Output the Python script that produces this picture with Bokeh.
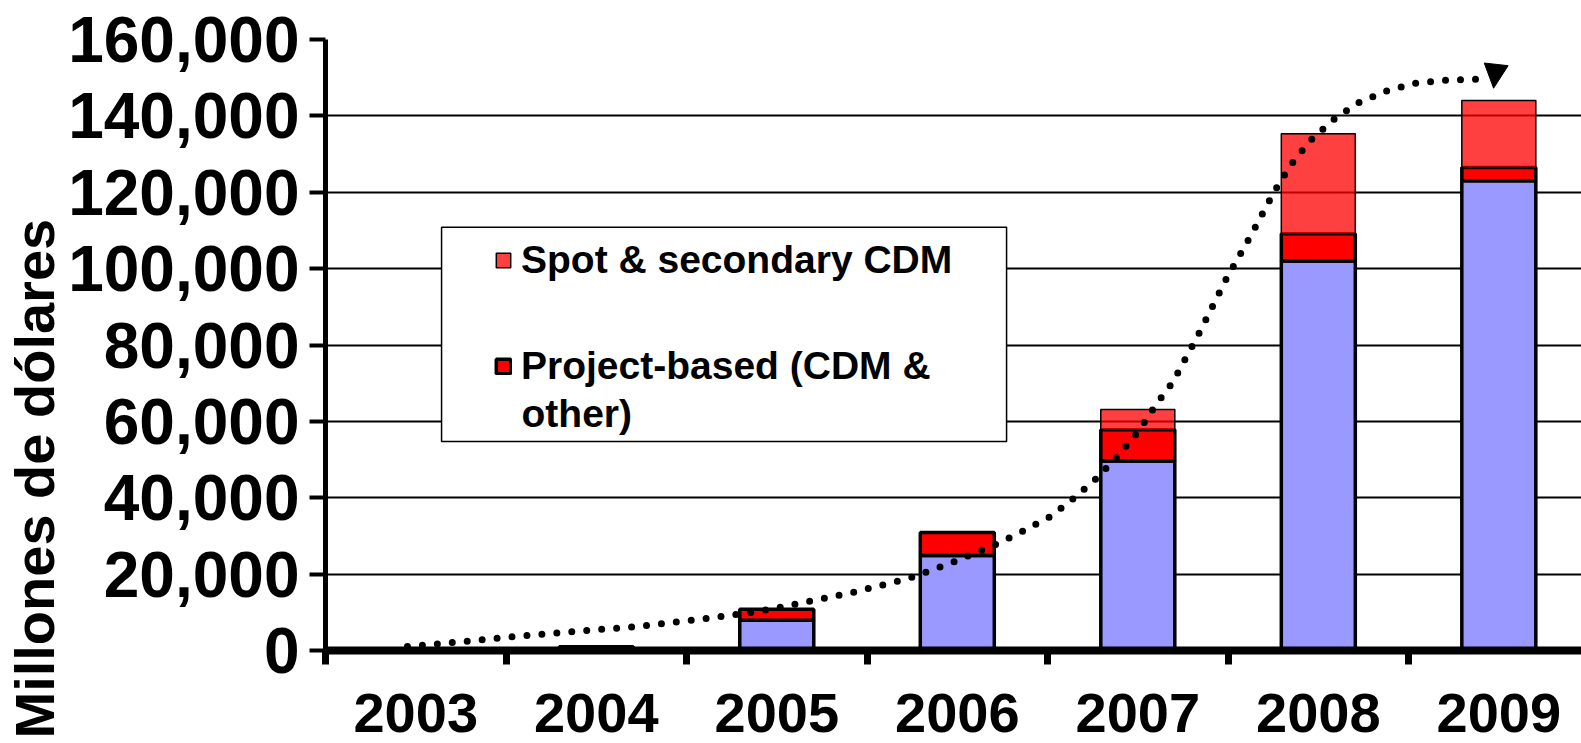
from bokeh.plotting import figure
from bokeh.models import (Range1d, FixedTicker, NumeralTickFormatter, Title, Label,
                          ColumnDataSource, Legend, LegendItem, BoxAnnotation, Arrow, NormalHead)
from bokeh.embed import file_html
from bokeh.resources import INLINE

# ---------------- data ----------------
years = ["2003", "2004", "2005", "2006", "2007", "2008", "2009"]
eu_ets = [0, 0, 7900, 24900, 49600, 102000, 123000]
project_based = [0, 1000, 2900, 6000, 8200, 7100, 3500]
spot_secondary = [0, 0, 0, 0, 5300, 26200, 17500]
y_ticks = [0, 20000, 40000, 60000, 80000, 100000, 120000, 140000, 160000]

# hand-drawn trend arrow (x in category units, y in value units)
trend_x = [0.454, 0.709, 1.047, 1.385, 1.729, 2.066, 2.399, 2.565, 2.898, 3.230, 3.474,
           3.712, 3.861, 4.017, 4.144, 4.271, 4.393, 4.504, 4.598, 4.693, 4.848, 4.986,
           5.136, 5.257, 5.346, 5.452, 5.579, 5.717, 5.873, 6.039, 6.211, 6.382]
trend_y = [1050, 2100, 3670, 4980, 6290, 8120, 10220, 11790, 14940, 18860, 23060,
           27770, 31180, 35110, 39820, 45060, 51090, 57380, 64190, 70220, 83840, 96940,
           109500, 120260, 127070, 133360, 138860, 143310, 146460, 148550, 149340, 149600]

FONT = "Liberation Sans"

x_pos = [i + 0.5 for i in range(len(years))]
bounds = list(range(len(years) + 1))
src = ColumnDataSource(dict(x=x_pos, years=years, eu=eu_ets, proj=project_based,
                            spot=spot_secondary))

p = figure(width=1581, height=743, x_range=Range1d(0, 6.958), y_range=Range1d(0, 160000),
           output_backend="svg", toolbar_location=None,
           min_border_left=325, min_border_right=0, min_border_top=39, min_border_bottom=93)
p.outline_line_color = None
p.background_fill_color = "white"
p.border_fill_color = "white"

# grid
p.xgrid.visible = False
p.ygrid.ticker = FixedTicker(ticks=y_ticks)
p.ygrid.grid_line_color = "black"
p.ygrid.grid_line_width = 2

# y axis
p.yaxis.ticker = FixedTicker(ticks=y_ticks, minor_ticks=[])
p.yaxis.formatter = NumeralTickFormatter(format="0,0")
p.yaxis.major_label_text_font = FONT
p.yaxis.major_label_text_font_style = "bold"
p.yaxis.major_label_text_font_size = "64px"
p.yaxis.major_label_text_color = "black"
p.yaxis.major_label_standoff = 10
p.yaxis.axis_line_width = 5
p.yaxis.axis_line_color = "black"
p.yaxis.major_tick_out = 16
p.yaxis.major_tick_in = 0
p.yaxis.major_tick_line_width = 4
p.yaxis.minor_tick_out = 0
p.yaxis.minor_tick_in = 0

# x axis: labels at category centres, ticks at category boundaries
p.xaxis.ticker = FixedTicker(ticks=x_pos, minor_ticks=bounds)
p.xaxis.major_label_overrides = {xp: y for xp, y in zip(x_pos, years)}
p.xaxis.major_label_text_font = FONT
p.xaxis.major_label_text_font_style = "bold"
p.xaxis.major_label_text_font_size = "56px"
p.xaxis.major_label_text_color = "black"
p.xaxis.major_label_standoff = 29
p.xaxis.axis_line_width = 8
p.xaxis.axis_line_color = "black"
p.xaxis.major_tick_out = 0
p.xaxis.major_tick_in = 0
p.xaxis.minor_tick_out = 14
p.xaxis.minor_tick_in = 0
p.xaxis.minor_tick_line_width = 7
p.xaxis.minor_tick_line_color = "black"

# y axis title (bottom aligned, as in the original slide)
p.add_layout(Title(text="Millones de dólares", align="left", offset=-88,
                   text_font=FONT, text_font_style="bold", text_font_size="56px",
                   text_color="black", standoff=0), "left")

# stacked bars
rs = p.vbar_stack(["eu", "proj", "spot"], x="x", width=0.41, source=src,
                  fill_color=["#9999FF", "#FF0000", "#FF0000"],
                  fill_alpha=[1.0, 1.0, 0.75],
                  line_color="black", line_width=[3.5, 3.5, 1.5])

# dotted trend line with arrow head
p.line(trend_x, trend_y, line_color="black", line_width=7, line_dash="0 15", line_cap="round")
p.add_layout(Arrow(end=NormalHead(size=24, fill_color="black", line_color="black", line_width=1),
                   x_start=6.488, y_start=154580, x_end=6.471, y_end=147244,
                   line_alpha=0))

# legend frame
p.add_layout(BoxAnnotation(left=0.643, right=3.773, top=110830, bottom=54760,
                           fill_color="white", fill_alpha=1.0, line_color="black",
                           line_alpha=1.0, line_width=1.5))

legend = Legend(items=[LegendItem(label="Spot & secondary CDM", renderers=[rs[2]]),
                       LegendItem(label="Project-based (CDM &", renderers=[rs[1]])],
                location=(169, 262), orientation="vertical",
                border_line_alpha=0, background_fill_alpha=0,
                padding=0, margin=0, spacing=62,
                glyph_width=18, glyph_height=18, label_standoff=9,
                label_text_font=FONT, label_text_font_style="bold",
                label_text_font_size="39px", label_text_color="black")
p.add_layout(legend)

# wrapped second line of the second legend entry
p.add_layout(Label(x=1.086, y=61960, text="other)", text_align="left", text_baseline="middle",
                   text_font=FONT, text_font_style="bold", text_font_size="39px",
                   text_color="black"))

open("out.html", "w").write(file_html(p, INLINE))
